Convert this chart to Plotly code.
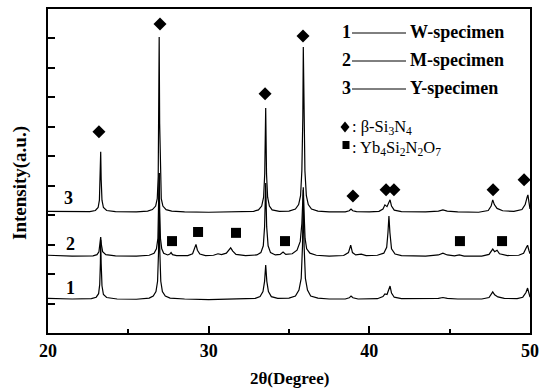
import plotly.graph_objects as go

# ---------------- data ----------------
# 2theta (deg), intensity above each trace's own baseline (axis units)
W_SPECIMEN = [
    (20.0, 0.02), (21.5, 0.0), (22.7, 0.01), (23.0, 0.06), (23.15, 0.18), (23.22, 0.5),
    (23.26, 1.2), (23.28, 2.0), (23.31, 1.2), (23.36, 0.45), (23.45, 0.15), (23.65, 0.05),
    (24.3, 0.0), (25.5, -0.01), (26.3, 0.03), (26.55, 0.1), (26.72, 0.25), (26.82, 0.6),
    (26.88, 1.6), (26.92, 4.28), (26.96, 1.6), (27.02, 0.6), (27.12, 0.25), (27.3, 0.1),
    (27.6, 0.03), (28.5, 0.0), (30.0, -0.02), (31.5, 0.0), (32.9, 0.02), (33.2, 0.08),
    (33.38, 0.25), (33.48, 0.6), (33.55, 1.15), (33.62, 0.6), (33.72, 0.25), (33.9, 0.08),
    (34.3, 0.02), (35.0, 0.03), (35.4, 0.1), (35.62, 0.3), (35.76, 0.7), (35.84, 1.8),
    (35.89, 3.7), (35.94, 1.8), (36.02, 0.7), (36.15, 0.3), (36.35, 0.1), (36.8, 0.03),
    (37.5, 0.0), (38.5, 0.0), (38.75, 0.04), (38.86, 0.1), (38.98, 0.04), (39.3, 0.0),
    (40.5, 0.01), (40.85, 0.08), (40.97, 0.17), (41.1, 0.15), (41.22, 0.36), (41.29, 0.44),
    (41.38, 0.2), (41.55, 0.06), (42.0, 0.01), (43.5, 0.0), (44.3, 0.02), (44.58, 0.05),
    (44.85, 0.02), (45.5, 0.0), (47.0, 0.0), (47.45, 0.05), (47.6, 0.18), (47.68, 0.24),
    (47.8, 0.14), (48.0, 0.07), (48.4, 0.02), (49.2, 0.01), (49.55, 0.06), (49.75, 0.22),
    (49.85, 0.37), (49.93, 0.2), (50.0, 0.06),
]

M_SPECIMEN = [
    (20.0, 0.03), (21.5, 0.0), (22.8, 0.01), (23.05, 0.05), (23.17, 0.15), (23.24, 0.4),
    (23.28, 0.65), (23.32, 0.4), (23.4, 0.15), (23.6, 0.05), (24.2, 0.01), (25.5, 0.0),
    (26.3, 0.03), (26.6, 0.1), (26.75, 0.25), (26.84, 0.6), (26.89, 1.5), (26.92, 2.82),
    (26.95, 1.5), (27.0, 0.6), (27.08, 0.25), (27.2, 0.1), (27.45, 0.04), (27.58, 0.07),
    (27.66, 0.12), (27.75, 0.05), (28.0, 0.02), (28.7, 0.02), (29.0, 0.08), (29.13, 0.25),
    (29.21, 0.4), (29.3, 0.2), (29.45, 0.07), (29.8, 0.02), (30.3, 0.03), (30.58, 0.08),
    (30.8, 0.05), (31.1, 0.1), (31.3, 0.24), (31.37, 0.28), (31.5, 0.17), (31.7, 0.06),
    (32.3, 0.02), (33.0, 0.04), (33.25, 0.12), (33.4, 0.35), (33.48, 1.0), (33.55, 2.48),
    (33.61, 1.0), (33.7, 0.35), (33.85, 0.12), (34.15, 0.04), (34.45, 0.06), (34.63, 0.14),
    (34.8, 0.06), (35.2, 0.08), (35.5, 0.2), (35.7, 0.5), (35.8, 1.1), (35.86, 2.0),
    (35.89, 2.34), (35.93, 1.6), (36.0, 0.6), (36.1, 0.25), (36.3, 0.1), (36.7, 0.03),
    (37.5, 0.0), (38.4, 0.02), (38.7, 0.12), (38.84, 0.37), (38.95, 0.12), (39.15, 0.04),
    (39.5, 0.07), (39.8, 0.02), (40.5, 0.03), (40.9, 0.1), (41.08, 0.3), (41.16, 0.8),
    (41.22, 1.36), (41.28, 0.8), (41.38, 0.25), (41.6, 0.07), (42.0, 0.02), (43.5, 0.0),
    (44.3, 0.04), (44.58, 0.1), (44.85, 0.04), (45.3, 0.01), (45.6, 0.04), (45.9, 0.0),
    (47.0, 0.0), (47.45, 0.06), (47.62, 0.2), (47.68, 0.24), (47.8, 0.15), (47.95, 0.2),
    (48.1, 0.08), (48.6, 0.02), (49.3, 0.03), (49.6, 0.1), (49.78, 0.3), (49.85, 0.37),
    (49.93, 0.2), (50.0, 0.08),
]

Y_SPECIMEN = [
    (20.0, 0.02), (21.5, 0.0), (22.6, 0.01), (22.95, 0.05), (23.12, 0.15), (23.2, 0.4),
    (23.25, 1.1), (23.28, 2.04), (23.31, 1.1), (23.36, 0.4), (23.45, 0.15), (23.65, 0.05),
    (24.2, 0.01), (25.5, 0.0), (26.2, 0.03), (26.5, 0.08), (26.7, 0.2), (26.8, 0.45),
    (26.86, 1.2), (26.9, 3.0), (26.92, 5.94), (26.95, 3.0), (26.99, 1.2), (27.05, 0.45),
    (27.15, 0.2), (27.35, 0.08), (27.7, 0.03), (28.5, 0.0), (30.0, -0.01), (31.5, 0.0),
    (32.8, 0.02), (33.1, 0.07), (33.3, 0.2), (33.42, 0.5), (33.49, 1.3), (33.55, 3.53),
    (33.6, 1.3), (33.67, 0.5), (33.78, 0.2), (33.95, 0.07), (34.4, 0.02), (35.0, 0.03),
    (35.4, 0.1), (35.6, 0.25), (35.72, 0.55), (35.8, 1.4), (35.86, 3.2), (35.89, 5.6),
    (35.93, 3.2), (35.99, 1.4), (36.08, 0.55), (36.2, 0.25), (36.4, 0.1), (36.8, 0.03),
    (37.5, 0.0), (38.5, 0.0), (38.75, 0.04), (38.86, 0.1), (38.97, 0.04), (39.2, 0.01),
    (40.0, 0.0), (40.6, 0.02), (40.85, 0.1), (40.97, 0.24), (41.1, 0.18), (41.22, 0.33),
    (41.29, 0.41), (41.38, 0.2), (41.55, 0.06), (42.0, 0.01), (43.5, 0.0), (44.3, 0.03),
    (44.58, 0.07), (44.85, 0.03), (45.5, 0.0), (46.8, -0.01), (47.4, 0.05), (47.58, 0.2),
    (47.68, 0.41), (47.78, 0.25), (47.95, 0.12), (48.3, 0.04), (49.0, 0.02), (49.5, 0.08),
    (49.7, 0.25), (49.82, 0.5), (49.87, 0.58), (49.93, 0.35), (50.0, 0.1),
]

SERIES_NAMES = ["W-specimen", "M-specimen", "Y-specimen"]
SERIES_LABELS = ["1", "2", "3"]
BASELINES = [1.155, 2.61, 4.11]          # vertical stacking offset of each trace

# phase markers (2theta, axis units)
SI3N4_X = [23.17, 26.97, 33.51, 35.87, 38.98, 41.04, 41.53, 47.70, 49.63]
SI3N4_Y = [6.83, 10.49, 8.12, 10.08, 4.65, 4.86, 4.86, 4.86, 5.20]
YB_X = [27.72, 29.34, 31.70, 34.75, 45.64, 48.26]
YB_Y = [3.12, 3.43, 3.40, 3.12, 3.12, 3.12]

X_TICKS = [20, 30, 40, 50]

# ---------------- layout helpers (pixel -> paper) ----------------
L, R, T, B = 48, 530, 9, 333
def fx(p):
    return (p - L) / (R - L)
def fy(p):
    return (B - p) / (B - T)

SERIF = "Liberation Serif"

fig = go.Figure()
for data, base, name in zip([W_SPECIMEN, M_SPECIMEN, Y_SPECIMEN], BASELINES, SERIES_NAMES):
    xs = [p[0] for p in data]
    ys = [p[1] + base for p in data]
    fig.add_trace(go.Scatter(x=xs, y=ys, mode="lines", name=name,
                             line=dict(color="black", width=1.2), showlegend=False))

fig.add_trace(go.Scatter(x=SI3N4_X, y=SI3N4_Y, mode="markers", showlegend=False,
                         marker=dict(symbol="diamond", size=10, color="black")))
fig.add_trace(go.Scatter(x=YB_X, y=YB_Y, mode="markers", showlegend=False,
                         marker=dict(symbol="square", size=10, color="black")))

ann = []
# series labels
for lab, (xp, yp) in zip(SERIES_LABELS, [(70, 288), (70, 244), (68, 198)]):
    ann.append(dict(text=lab, x=fx(xp), y=fy(yp), xref="paper", yref="paper",
                    showarrow=False, xanchor="center", yanchor="middle",
                    font=dict(family=SERIF, size=18, color="black", weight="bold")))

# legend block
shapes = []
for lab, name, yp in zip(SERIES_LABELS, SERIES_NAMES, [32, 60, 88]):
    ann.append(dict(text=lab, x=fx(346), y=fy(yp), xref="paper", yref="paper",
                    showarrow=False, xanchor="center", yanchor="middle",
                    font=dict(family=SERIF, size=18, color="black", weight="bold")))
    ann.append(dict(text=name, x=fx(408), y=fy(yp), xref="paper", yref="paper",
                    showarrow=False, xanchor="left", yanchor="middle",
                    font=dict(family=SERIF, size=18, color="black", weight="bold")))
    shapes.append(dict(type="line", xref="paper", yref="paper",
                       x0=fx(352), x1=fx(406), y0=fy(yp + 1), y1=fy(yp + 1),
                       line=dict(color="black", width=1)))

# phase legend
dx, dy = 4.5 / (R - L), 5.5 / (B - T)
cx, cy = fx(345), fy(127)
shapes.append(dict(type="path", xref="paper", yref="paper",
                   path=f"M {cx-dx},{cy} L {cx},{cy+dy} L {cx+dx},{cy} L {cx},{cy-dy} Z",
                   fillcolor="black", line=dict(width=0)))
sx, sy = 3.5 / (R - L), 4 / (B - T)
cx2, cy2 = fx(346), fy(145)
shapes.append(dict(type="rect", xref="paper", yref="paper",
                   x0=cx2 - sx, x1=cx2 + sx, y0=cy2 - sy, y1=cy2 + sy,
                   fillcolor="black", line=dict(width=0)))
ann.append(dict(text=": β-Si<sub>3</sub>N<sub>4</sub>", x=fx(350), y=fy(127),
                xref="paper", yref="paper", showarrow=False, xanchor="left", yanchor="middle",
                font=dict(family=SERIF, size=16.5, color="black")))
ann.append(dict(text=": Yb<sub>4</sub>Si<sub>2</sub>N<sub>2</sub>O<sub>7</sub>", x=fx(350), y=fy(148),
                xref="paper", yref="paper", showarrow=False, xanchor="left", yanchor="middle",
                font=dict(family=SERIF, size=16.5, color="black")))

# axis titles
ann.append(dict(text="2θ(Degree)", x=fx(289), y=fy(378), xref="paper", yref="paper",
                showarrow=False, xanchor="center", yanchor="middle",
                font=dict(family=SERIF, size=17, color="black", weight="bold")))
ann.append(dict(text="Intensity(a.u.)", x=fx(20), y=fy(183), xref="paper", yref="paper",
                showarrow=False, xanchor="center", yanchor="middle", textangle=-90,
                font=dict(family=SERIF, size=19, color="black", weight="bold")))

fig.update_layout(
    width=541, height=390, autosize=False,
    margin=dict(l=L, r=541 - R, t=T, b=390 - B, pad=0, autoexpand=False),
    paper_bgcolor="white", plot_bgcolor="white",
    annotations=ann, shapes=shapes,
    xaxis=dict(range=[20, 50], tickvals=X_TICKS, ticks="inside", ticklen=7, tickwidth=1.5,
               tickcolor="black", showline=True, linecolor="black", linewidth=2, mirror=True,
               showgrid=False, zeroline=False, automargin=False,
               minor=dict(tickvals=[25, 35, 45], ticks="inside", ticklen=4, tickwidth=1.5,
                          tickcolor="black", showgrid=False),
               tickfont=dict(family=SERIF, size=18, color="black", weight="bold")),
    yaxis=dict(range=[0, 11], dtick=1, tick0=0, ticks="inside", ticklen=7, tickwidth=1.5,
               tickcolor="black", showticklabels=False, showline=True, linecolor="black",
               linewidth=2, mirror=True, showgrid=False, zeroline=False, automargin=False),
)

fig.write_html("out.html", config={"displayModeBar": False},
               post_script="document.body.style.margin='0';document.body.style.overflow='hidden';")
